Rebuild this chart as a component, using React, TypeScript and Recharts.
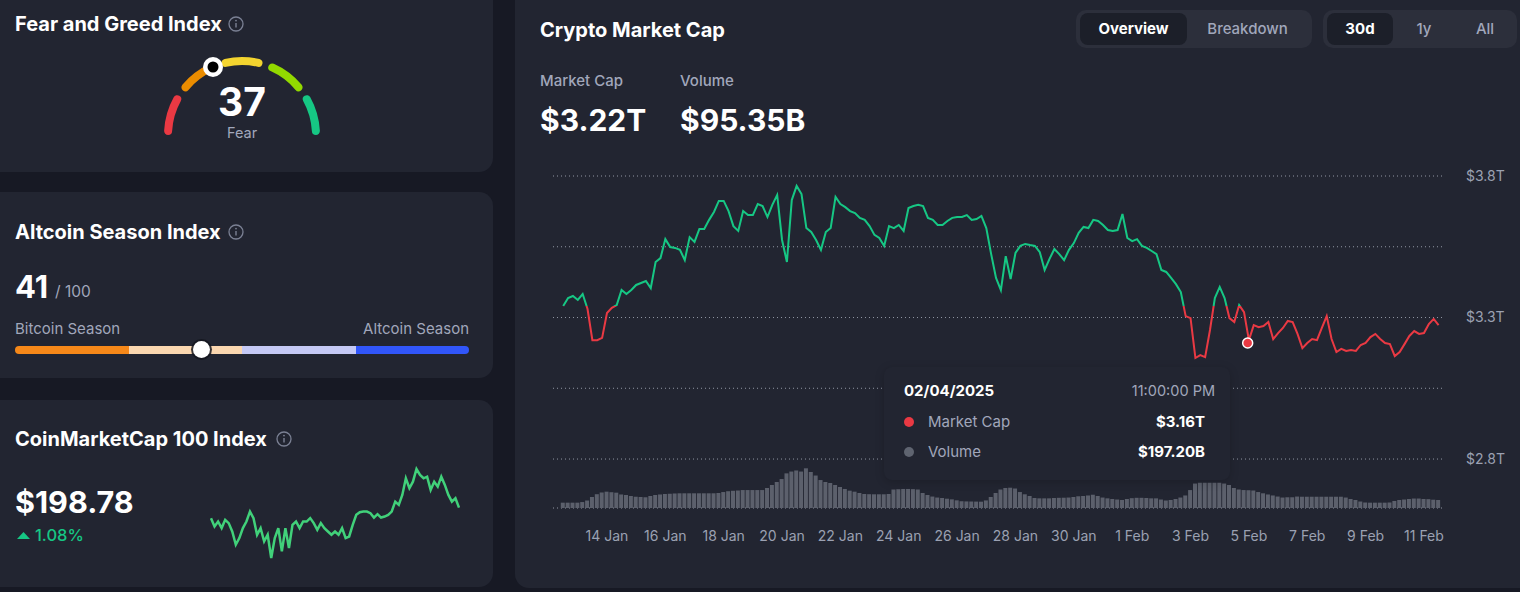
import {
  Bar,
  CartesianGrid,
  Cell,
  ComposedChart,
  Line,
  LineChart,
  Pie,
  PieChart,
  ReferenceDot,
  XAxis,
  YAxis,
} from 'recharts'

// hours counted from 14 Jan 2025 00:00, one point every 4 hours
const START_HOUR = -36
const STEP_HOURS = 4

// total crypto market cap, $T
const marketCap = [
  3.341, 3.369, 3.376, 3.362, 3.383, 3.330, 3.220, 3.220, 3.228, 3.316,
  3.334, 3.344, 3.397, 3.383, 3.397, 3.415, 3.422, 3.429, 3.404, 3.496,
  3.510, 3.577, 3.549, 3.546, 3.539, 3.503, 3.584, 3.567, 3.613, 3.613,
  3.645, 3.673, 3.712, 3.712, 3.676, 3.623, 3.606, 3.676, 3.662, 3.662,
  3.701, 3.694, 3.655, 3.698, 3.733, 3.574, 3.496, 3.715, 3.765, 3.736,
  3.616, 3.602, 3.574, 3.539, 3.602, 3.616, 3.726, 3.701, 3.690, 3.676,
  3.669, 3.652, 3.645, 3.623, 3.592, 3.581, 3.553, 3.623, 3.616, 3.627,
  3.606, 3.687, 3.694, 3.698, 3.694, 3.652, 3.645, 3.627, 3.627, 3.641,
  3.652, 3.655, 3.655, 3.662, 3.645, 3.648, 3.659, 3.616, 3.524, 3.440,
  3.397, 3.517, 3.436, 3.528, 3.553, 3.560, 3.556, 3.553, 3.531, 3.468,
  3.507, 3.542, 3.524, 3.503, 3.539, 3.563, 3.599, 3.620, 3.616, 3.645,
  3.641, 3.627, 3.609, 3.606, 3.609, 3.666, 3.581, 3.570, 3.577, 3.553,
  3.546, 3.535, 3.524, 3.468, 3.461, 3.440, 3.418, 3.390, 3.305, 3.298,
  3.157, 3.167, 3.160, 3.256, 3.369, 3.408, 3.369, 3.298, 3.284, 3.344,
  3.319, 3.220, 3.273, 3.266, 3.270, 3.284, 3.224, 3.245, 3.263, 3.288,
  3.284, 3.242, 3.192, 3.210, 3.224, 3.220, 3.263, 3.305, 3.224, 3.178,
  3.189, 3.182, 3.185, 3.182, 3.203, 3.210, 3.231, 3.242, 3.224, 3.210,
  3.206, 3.164, 3.178, 3.206, 3.235, 3.252, 3.242, 3.245, 3.277, 3.295,
  3.273,
]

// 24h volume, $B
const volume = [
  59, 59, 59, 59, 66, 83, 122, 153, 172, 181,
  175, 170, 150, 144, 133, 125, 122, 119, 133, 144,
  150, 155, 158, 161, 163, 163, 163, 163, 163, 163,
  163, 163, 166, 177, 186, 191, 194, 199, 199, 199,
  199, 199, 222, 255, 288, 321, 384, 404, 416, 404,
  440, 399, 360, 310, 288, 277, 255, 233, 211, 192,
  181, 166, 155, 153, 152, 152, 152, 155, 205, 208,
  211, 211, 209, 205, 166, 144, 127, 116, 111, 103,
  96, 85, 75, 73, 72, 71, 70, 84, 122, 166,
  205, 222, 225, 216, 177, 152, 133, 111, 107, 107,
  107, 111, 113, 114, 116, 122, 130, 133, 139, 147,
  133, 116, 107, 100, 94, 89, 100, 109, 113, 113,
  111, 107, 107, 94, 83, 89, 100, 116, 139, 199,
  271, 280, 280, 280, 280, 280, 271, 255, 222, 205,
  199, 197, 194, 177, 163, 150, 139, 127, 116, 119,
  119, 127, 125, 125, 125, 125, 125, 125, 125, 125,
  125, 116, 100, 89, 72, 61, 59, 59, 59, 59,
  61, 78, 89, 94, 100, 105, 105, 100, 98, 92,
  89,
]

const tickHours = [0, 48, 96, 144, 192, 240, 288, 336, 384, 432, 480, 528, 576, 624, 672]
const tickLabels = [
  '14 Jan', '16 Jan', '18 Jan', '20 Jan', '22 Jan', '24 Jan', '26 Jan', '28 Jan',
  '30 Jan', '1 Feb', '3 Feb', '5 Feb', '7 Feb', '9 Feb', '11 Feb',
]
const capTicks = [2.8, 3.05, 3.3, 3.55, 3.8]
const capLabelled = [2.8, 3.3, 3.8]

const hoverPoint = {
  hour: 527,
  cap: 3.21,
  date: '02/04/2025',
  time: '11:00:00 PM',
  capText: '$3.16T',
  volumeText: '$197.20B',
}

const fearGreedBands = [
  { name: 'Extreme fear', value: 20, color: '#ea3943' },
  { name: 'Fear', value: 20, color: '#ea8c00' },
  { name: 'Neutral', value: 20, color: '#f3d42f' },
  { name: 'Greed', value: 20, color: '#93d900' },
  { name: 'Extreme greed', value: 20, color: '#16c784' },
]
const fearGreedValue = 37

const seasonBands = [
  { from: 0, to: 25, color: '#f68819' },
  { from: 25, to: 50, color: '#fbd7b0' },
  { from: 50, to: 75, color: '#c5c9f5' },
  { from: 75, to: 100, color: '#3156fa' },
]
const altcoinSeason = 41

// CoinMarketCap 100 index, last 30 days
const cmc100 = [
  196.13, 194.03, 195.28, 193.63, 195.71, 194.88, 192.78, 189.46, 191.13, 193.63,
  195.28, 197.78, 196.13, 191.96, 193.63, 190.28, 191.96, 186.13, 191.13, 193.63,
  187.78, 193.63, 188.63, 194.46, 195.28, 193.63, 195.28, 195.28, 196.13, 194.88,
  193.21, 194.88, 193.63, 192.78, 191.96, 192.78, 191.96, 193.63, 191.13, 191.53,
  194.46, 196.96, 197.63, 197.78, 197.78, 197.38, 196.28, 197.13, 196.28, 196.53,
  196.96, 197.78, 200.28, 199.46, 201.96, 206.13, 203.63, 205.28, 208.46, 206.96,
  206.13, 206.53, 203.21, 205.28, 204.03, 206.53, 204.46, 201.96, 200.28, 201.13,
  198.78,
]

const chartData = marketCap.map((cap, i) => ({
  hour: START_HOUR + i * STEP_HOURS,
  cap,
  volume: volume[i],
}))
const sparkData = cmc100.map((v, i) => ({ i, v }))

const capMax = Math.max(...marketCap)
const capMin = Math.min(...marketCap)
const capSplit = (capMax - marketCap[0]) / (capMax - capMin)

const WHITE = '#ffffff'
const GREY = '#a1a7bb'
const CARD = '#222531'

type TxtProps = {
  x: number
  y: number
  size: number
  weight?: number
  color?: string
  anchor?: 'start' | 'middle' | 'end'
  children: React.ReactNode
}

function Txt({ x, y, size, weight = 400, color = WHITE, anchor = 'start', children }: TxtProps) {
  const w = 600
  const left = anchor === 'start' ? x : anchor === 'end' ? x - w : x - w / 2
  return (
    <div
      style={{
        position: 'absolute',
        left,
        top: y - size * 0.6,
        width: w,
        height: size * 1.2,
        lineHeight: `${size * 1.2}px`,
        fontSize: size,
        fontWeight: weight,
        color,
        textAlign: anchor === 'start' ? 'left' : anchor === 'end' ? 'right' : 'center',
        whiteSpace: 'nowrap',
      }}
    >
      {children}
    </div>
  )
}

function InfoIcon({ x, y }: { x: number; y: number }) {
  return (
    <svg width={18} height={18} style={{ position: 'absolute', left: x - 9, top: y - 9 }}>
      <circle cx={9} cy={9} r={7} fill="none" stroke="#7b8194" strokeWidth={1.3} />
      <line x1={9} y1={8} x2={9} y2={12.5} stroke="#7b8194" strokeWidth={1.4} />
      <circle cx={9} cy={5.6} r={0.9} fill="#7b8194" />
    </svg>
  )
}

function Card({ left, top, width, height }: { left: number; top: number; width: number; height: number }) {
  return (
    <div
      style={{ position: 'absolute', left, top, width, height, background: CARD, borderRadius: 14 }}
    />
  )
}

function Gauge() {
  const cx = 242
  const cy = 135
  const r = 74
  const angle = ((180 - fearGreedValue * 1.8) * Math.PI) / 180
  const kx = cx + r * Math.cos(angle)
  const ky = cy - r * Math.sin(angle)
  return (
    <>
      <div style={{ position: 'absolute', left: cx - 90, top: cy - 90 }}>
        <PieChart width={180} height={180} margin={{ top: 0, right: 0, bottom: 0, left: 0 }}>
          <Pie
            data={fearGreedBands}
            dataKey="value"
            cx={90}
            cy={90}
            startAngle={180}
            endAngle={0}
            innerRadius={70}
            outerRadius={78}
            paddingAngle={5}
            cornerRadius={4}
            stroke="none"
            isAnimationActive={false}
          >
            {fearGreedBands.map((b) => (
              <Cell key={b.name} fill={b.color} />
            ))}
          </Pie>
        </PieChart>
      </div>
      <svg width={30} height={30} style={{ position: 'absolute', left: kx - 15, top: ky - 15 }}>
        <circle cx={15} cy={15} r={10} fill={WHITE} />
        <circle cx={15} cy={15} r={5.5} fill="#000" />
      </svg>
    </>
  )
}

function Segmented({ left, width, items, active, widths }: { left: number; width: number; items: string[]; active: number; widths: number[] }) {
  let x = 4
  return (
    <div
      style={{
        position: 'absolute',
        left,
        top: 10,
        width,
        height: 38,
        background: '#2c2f3b',
        borderRadius: 10,
      }}
    >
      {items.map((label, i) => {
        const w = widths[i]
        const el = (
          <div
            key={label}
            style={{
              position: 'absolute',
              left: x,
              top: 3,
              width: w,
              height: 32,
              lineHeight: '32px',
              textAlign: 'center',
              borderRadius: 8,
              background: i === active ? '#1c1f29' : 'transparent',
              color: i === active ? WHITE : GREY,
              fontSize: 15,
              fontWeight: i === active ? 700 : 500,
            }}
          >
            {label}
          </div>
        )
        x += w
        return el
      })}
    </div>
  )
}

export default function App() {
  return (
    <div
      style={{
        position: 'fixed',
        left: 0,
        top: 0,
        width: 1520,
        height: 592,
        overflow: 'hidden',
        background: '#171924',
        fontFamily: 'Inter, "Noto Sans", sans-serif',
      }}
    >
      {/* left column */}
      <Card left={-14} top={-14} width={507} height={186} />
      <Card left={-14} top={192} width={507} height={186} />
      <Card left={-14} top={400} width={507} height={187} />

      <Txt x={15} y={24} size={20} weight={700}>Fear and Greed Index</Txt>
      <InfoIcon x={236} y={24} />
      <Gauge />
      <Txt x={242} y={102.5} size={39} weight={700} anchor="middle">{fearGreedValue}</Txt>
      <Txt x={242} y={132.5} size={14.5} color={GREY} anchor="middle">Fear</Txt>

      <Txt x={15} y={232} size={20} weight={700}>Altcoin Season Index</Txt>
      <InfoIcon x={236} y={232} />
      <Txt x={15} y={287} size={31} weight={700}>{altcoinSeason}</Txt>
      <Txt x={55} y={292.5} size={15.5} color={GREY}>/ 100</Txt>
      <Txt x={15} y={329} size={15} color={GREY}>Bitcoin Season</Txt>
      <Txt x={469} y={329} size={15} color={GREY} anchor="end">Altcoin Season</Txt>
      <div
        style={{
          position: 'absolute',
          left: 15,
          top: 346,
          width: 454,
          height: 8,
          borderRadius: 4,
          overflow: 'hidden',
        }}
      >
        {seasonBands.map((b) => (
          <div
            key={b.from}
            style={{
              position: 'absolute',
              left: (b.from / 100) * 454,
              width: ((b.to - b.from) / 100) * 454,
              top: 0,
              height: 8,
              background: b.color,
            }}
          />
        ))}
      </div>
      <div
        style={{
          position: 'absolute',
          left: 15 + (altcoinSeason / 100) * 454 - 8.5,
          top: 349.5 - 8.5,
          width: 17,
          height: 17,
          borderRadius: '50%',
          background: WHITE,
          boxShadow: '0 0 0 2px rgba(20,22,30,0.85)',
        }}
      />

      <Txt x={15} y={439} size={20} weight={700}>CoinMarketCap 100 Index</Txt>
      <InfoIcon x={284} y={439} />
      <Txt x={15} y={502.5} size={30.5} weight={700}>$198.78</Txt>
      <svg width={14} height={10} style={{ position: 'absolute', left: 17, top: 531 }}>
        <polygon points="0,8 6.5,1 13,8" fill="#16c784" />
      </svg>
      <Txt x={35} y={536} size={16.5} weight={500} color="#16c784">1.08%</Txt>
      <div style={{ position: 'absolute', left: 208, top: 466 }}>
        <LineChart width={254} height={95} data={sparkData} margin={{ top: 3, right: 3, bottom: 3, left: 3 }}>
          <XAxis dataKey="i" hide />
          <YAxis hide domain={['dataMin', 'dataMax']} />
          <Line
            dataKey="v"
            stroke="#41d17a"
            strokeWidth={2.5}
            dot={false}
            type="linear"
            isAnimationActive={false}
          />
        </LineChart>
      </div>

      {/* main card */}
      <Card left={515} top={-14} width={1020} height={602} />
      <Txt x={540} y={29.5} size={20} weight={700}>Crypto Market Cap</Txt>
      <Segmented left={1076} width={236} items={['Overview', 'Breakdown']} active={0} widths={[107, 121]} />
      <Segmented left={1323} width={194} items={['30d', '1y', 'All']} active={0} widths={[66, 62, 60]} />

      <Txt x={540} y={81} size={15} weight={500} color={GREY}>Market Cap</Txt>
      <Txt x={680} y={81} size={15} weight={500} color={GREY}>Volume</Txt>
      <Txt x={540} y={120} size={30} weight={700}>$3.22T</Txt>
      <Txt x={680} y={120} size={30} weight={700}>$95.35B</Txt>

      <div style={{ position: 'absolute', left: 515, top: 150 }}>
        <ComposedChart
          width={1005}
          height={430}
          data={chartData}
          margin={{ top: 26, right: 15, bottom: 32, left: 38 }}
        >
          <defs>
            <linearGradient id="capStroke" x1="0" y1="0" x2="0" y2="1">
              <stop offset={0} stopColor="#16c784" />
              <stop offset={capSplit} stopColor="#16c784" />
              <stop offset={capSplit} stopColor="#ea3943" />
              <stop offset={1} stopColor="#ea3943" />
            </linearGradient>
          </defs>
          <CartesianGrid
            yAxisId="cap"
            vertical={false}
            stroke="#9196a3"
            strokeDasharray="1 3"
          />
          <XAxis
            dataKey="hour"
            type="number"
            domain={[-44.4, 689.3]}
            allowDataOverflow
            ticks={tickHours}
            interval={0}
            tickFormatter={(v: number) => tickLabels[tickHours.indexOf(v)] ?? ''}
            axisLine={false}
            tickLine={false}
            tickMargin={17}
            height={40}
            tick={{ fill: '#9ba1b2', fontSize: 14 }}
          />
          <YAxis
            yAxisId="cap"
            orientation="right"
            domain={[2.627, 3.8]}
            allowDataOverflow
            ticks={capTicks}
            interval={0}
            tickFormatter={(v: number) => (capLabelled.includes(v) ? `$${v}T` : '')}
            axisLine={false}
            tickLine={false}
            tickMargin={15}
            width={60}
            tick={{ fill: '#9ba1b2', fontSize: 14 }}
          />
          <YAxis yAxisId="vol" hide domain={[0, 3680]} />
          <Bar
            yAxisId="vol"
            dataKey="volume"
            fill="#5c606c"
            barSize={4}
            isAnimationActive={false}
          />
          <Line
            yAxisId="cap"
            dataKey="cap"
            type="linear"
            stroke="url(#capStroke)"
            strokeWidth={2}
            dot={false}
            activeDot={false}
            isAnimationActive={false}
          />
          <ReferenceDot
            yAxisId="cap"
            x={hoverPoint.hour}
            y={hoverPoint.cap}
            r={5}
            fill="#ea3943"
            stroke={WHITE}
            strokeWidth={1.5}
          />
        </ComposedChart>
      </div>

      {/* hover tooltip */}
      <div
        style={{
          position: 'absolute',
          left: 884,
          top: 367,
          width: 346,
          height: 113,
          background: CARD,
          borderRadius: 8,
          boxShadow: '0 2px 10px rgba(0,0,0,0.18)',
        }}
      />
      <Txt x={904} y={391} size={15} weight={700}>{hoverPoint.date}</Txt>
      <Txt x={1215} y={391} size={14.5} color={GREY} anchor="end">{hoverPoint.time}</Txt>
      <svg width={12} height={12} style={{ position: 'absolute', left: 903, top: 416 }}>
        <circle cx={6} cy={6} r={5} fill="#ea3943" />
      </svg>
      <Txt x={928} y={422} size={15} color={GREY}>Market Cap</Txt>
      <Txt x={1205} y={422} size={15} weight={700} anchor="end">{hoverPoint.capText}</Txt>
      <svg width={12} height={12} style={{ position: 'absolute', left: 903, top: 446 }}>
        <circle cx={6} cy={6} r={5} fill="#5f6470" />
      </svg>
      <Txt x={928} y={452} size={15} color={GREY}>Volume</Txt>
      <Txt x={1205} y={452} size={15} weight={700} anchor="end">{hoverPoint.volumeText}</Txt>
    </div>
  )
}
